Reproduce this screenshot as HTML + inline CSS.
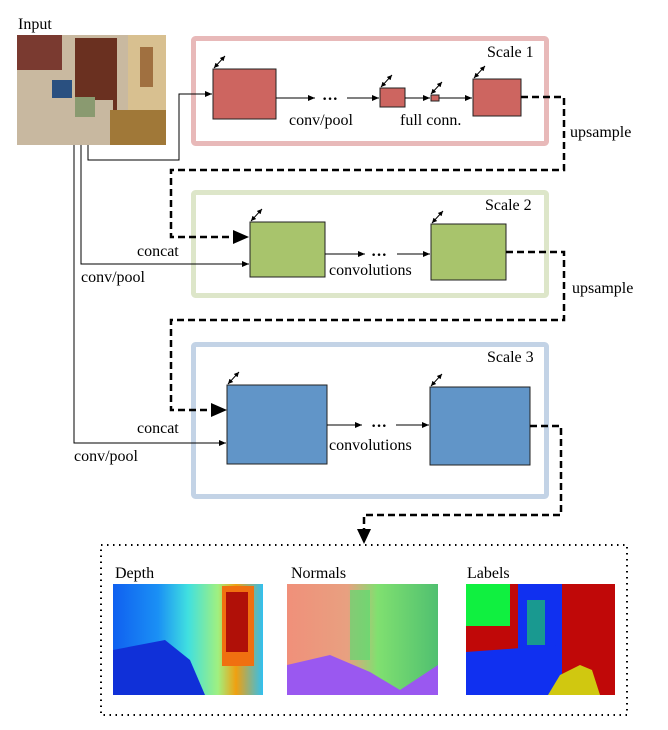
<!DOCTYPE html>
<html><head><meta charset="utf-8"><style>
html,body{margin:0;padding:0;background:#fff;}
svg{display:block;}
text{font-family:"Liberation Serif",serif;font-size:16px;fill:#000;}
</style></head><body>
<svg width="668" height="730" viewBox="0 0 668 730" xmlns="http://www.w3.org/2000/svg">
<defs>
<marker id="a" markerWidth="8" markerHeight="8" refX="7" refY="4" orient="auto" markerUnits="userSpaceOnUse"><path d="M0,1 L7,4 L0,7 z" fill="#000"/></marker>
<marker id="d" markerWidth="6" markerHeight="6" refX="5" refY="3" orient="auto-start-reverse" markerUnits="userSpaceOnUse"><path d="M0,0.5 L5,3 L0,5.5 z" fill="#000"/></marker>
<linearGradient id="dep" x1="0" y1="0" x2="1" y2="0">
<stop offset="0" stop-color="#1060f0"/><stop offset="0.3" stop-color="#1a90f5"/><stop offset="0.5" stop-color="#40e0e0"/><stop offset="0.7" stop-color="#a0f080"/><stop offset="0.82" stop-color="#f0a010"/><stop offset="1" stop-color="#30c0f0"/></linearGradient>
<linearGradient id="nor" x1="0" y1="0" x2="1" y2="0">
<stop offset="0" stop-color="#f0907a"/><stop offset="0.4" stop-color="#e8a080"/><stop offset="0.6" stop-color="#80e070"/><stop offset="1" stop-color="#50c070"/></linearGradient>
</defs>

<!-- input -->
<text x="18" y="29" font-size="17">Input</text>
<rect x="17" y="35" width="149" height="110" fill="#c9b9a0"/>
<rect x="17" y="35" width="45" height="35" fill="#7a3a30"/>
<rect x="75" y="38" width="42" height="75" fill="#6a3020"/>
<rect x="128" y="35" width="38" height="90" fill="#d8c090"/>
<rect x="140" y="47" width="13" height="40" fill="#a07040"/>
<rect x="17" y="100" width="96" height="45" fill="#c8b8a0"/>
<rect x="110" y="110" width="56" height="35" fill="#a07838"/>
<rect x="75" y="97" width="20" height="20" fill="#8a9a70"/>
<rect x="52" y="80" width="20" height="18" fill="#2a5080"/>

<!-- scale boxes -->
<rect x="193.5" y="38.5" width="353" height="105" fill="none" stroke="#e8b9b9" stroke-width="5" rx="2"/>
<rect x="193.5" y="192.5" width="353" height="103" fill="none" stroke="#dde6c9" stroke-width="5" rx="2"/>
<rect x="193.5" y="344.5" width="353" height="152" fill="none" stroke="#c3d3e6" stroke-width="5" rx="2"/>
<text x="487" y="57">Scale 1</text>
<text x="485" y="210">Scale 2</text>
<text x="487" y="362">Scale 3</text>

<g stroke="#222" stroke-width="1">
<rect x="213" y="69" width="63" height="50" fill="#cd6560"/>
<rect x="380" y="88" width="25" height="19" fill="#cd6560"/>
<rect x="431" y="95" width="8" height="6" fill="#cd6560"/>
<rect x="473" y="79" width="48" height="37" fill="#cd6560"/>
<rect x="250" y="222" width="75" height="55" fill="#a8c46c"/>
<rect x="431" y="224" width="75" height="56" fill="#a8c46c"/>
<rect x="227" y="385" width="100" height="79" fill="#6195c8"/>
<rect x="430" y="387" width="100" height="78" fill="#6195c8"/>
</g>
<g stroke="#000" stroke-width="1" fill="none">
<line x1="276" y1="98" x2="315" y2="98" marker-end="url(#a)"/>
<line x1="347" y1="98" x2="379" y2="98" marker-end="url(#a)"/>
<line x1="405" y1="98" x2="430" y2="98" marker-end="url(#a)"/>
<line x1="439" y1="98" x2="472" y2="98" marker-end="url(#a)"/>
<line x1="325" y1="254" x2="365" y2="254" marker-end="url(#a)"/>
<line x1="397" y1="254" x2="430" y2="254" marker-end="url(#a)"/>
<line x1="327" y1="425" x2="362" y2="425" marker-end="url(#a)"/>
<line x1="396" y1="425" x2="429" y2="425" marker-end="url(#a)"/>
<polyline points="88,145 88,160 179,160 179,94 212,94" marker-end="url(#a)"/>
<polyline points="81,145 81,264 249,264" marker-end="url(#a)"/>
<polyline points="74,145 74,443 226,443" marker-end="url(#a)"/>
<line x1="214" y1="68" x2="225" y2="56" marker-start="url(#d)" marker-end="url(#d)"/>
<line x1="381" y1="87" x2="392" y2="75" marker-start="url(#d)" marker-end="url(#d)"/>
<line x1="431" y1="94" x2="442" y2="82" marker-start="url(#d)" marker-end="url(#d)"/>
<line x1="474" y1="78" x2="485" y2="66" marker-start="url(#d)" marker-end="url(#d)"/>
<line x1="251" y1="221" x2="262" y2="209" marker-start="url(#d)" marker-end="url(#d)"/>
<line x1="432" y1="223" x2="443" y2="211" marker-start="url(#d)" marker-end="url(#d)"/>
<line x1="228" y1="384" x2="239" y2="372" marker-start="url(#d)" marker-end="url(#d)"/>
<line x1="431" y1="386" x2="442" y2="374" marker-start="url(#d)" marker-end="url(#d)"/>
</g>
<g stroke="#000" stroke-width="2.5" fill="none" stroke-dasharray="7,4">
<polyline points="521,97 564,97 564,170 171,170 171,237 234,237"/>
<polyline points="506,252 564,252 564,320 171,320 171,410 212,410"/>
<polyline points="530,426 561,426 561,515 364,515 364,530"/>
</g>
<path d="M233,230 L249,237 L233,244 z"/>
<path d="M211,403 L227,410 L211,417 z"/>
<path d="M357,529 L364,544 L371,529 z"/>

<text x="322" y="104" font-weight="bold" font-size="14">···</text>
<text x="371" y="260" font-weight="bold" font-size="14">···</text>
<text x="371" y="431" font-weight="bold" font-size="14">···</text>
<text x="289" y="125">conv/pool</text>
<text x="400" y="125">full conn.</text>
<text x="570" y="137">upsample</text>
<text x="572" y="293">upsample</text>
<text x="137" y="256">concat</text>
<text x="81" y="282">conv/pool</text>
<text x="329" y="275">convolutions</text>
<text x="137" y="433">concat</text>
<text x="74" y="461">conv/pool</text>
<text x="329" y="450">convolutions</text>

<!-- output -->
<rect x="101" y="545" width="526" height="170" fill="none" stroke="#000" stroke-width="2" stroke-dasharray="1.5,4.5"/>
<text x="115" y="578" font-size="17">Depth</text>
<text x="291" y="578" font-size="17">Normals</text>
<text x="467" y="578" font-size="17">Labels</text>
<rect x="113" y="584" width="150" height="111" fill="url(#dep)"/>
<rect x="222" y="586" width="32" height="80" fill="#f07010"/>
<rect x="226" y="592" width="22" height="60" fill="#b01008"/>
<path d="M113,650 L165,640 L190,660 L205,695 L113,695z" fill="#1030d8"/>
<rect x="287" y="584" width="151" height="111" fill="url(#nor)"/>
<rect x="350" y="590" width="20" height="70" fill="#60d870" opacity="0.7"/>
<path d="M287,665 L330,655 L370,672 L400,690 L438,665 L438,695 L287,695z" fill="#9a58f0"/>
<rect x="466" y="584" width="149" height="111" fill="#c00808"/>
<rect x="466" y="584" width="44" height="42" fill="#10f040"/>
<rect x="518" y="584" width="44" height="111" fill="#1030f0"/>
<path d="M466,652 L562,645 L562,695 L466,695z" fill="#1030f0"/>
<rect x="527" y="600" width="18" height="45" fill="#20e050" opacity="0.6"/>
<path d="M548,695 L560,675 L580,665 L592,670 L600,695z" fill="#d0c810"/>
</svg>
</body></html>
